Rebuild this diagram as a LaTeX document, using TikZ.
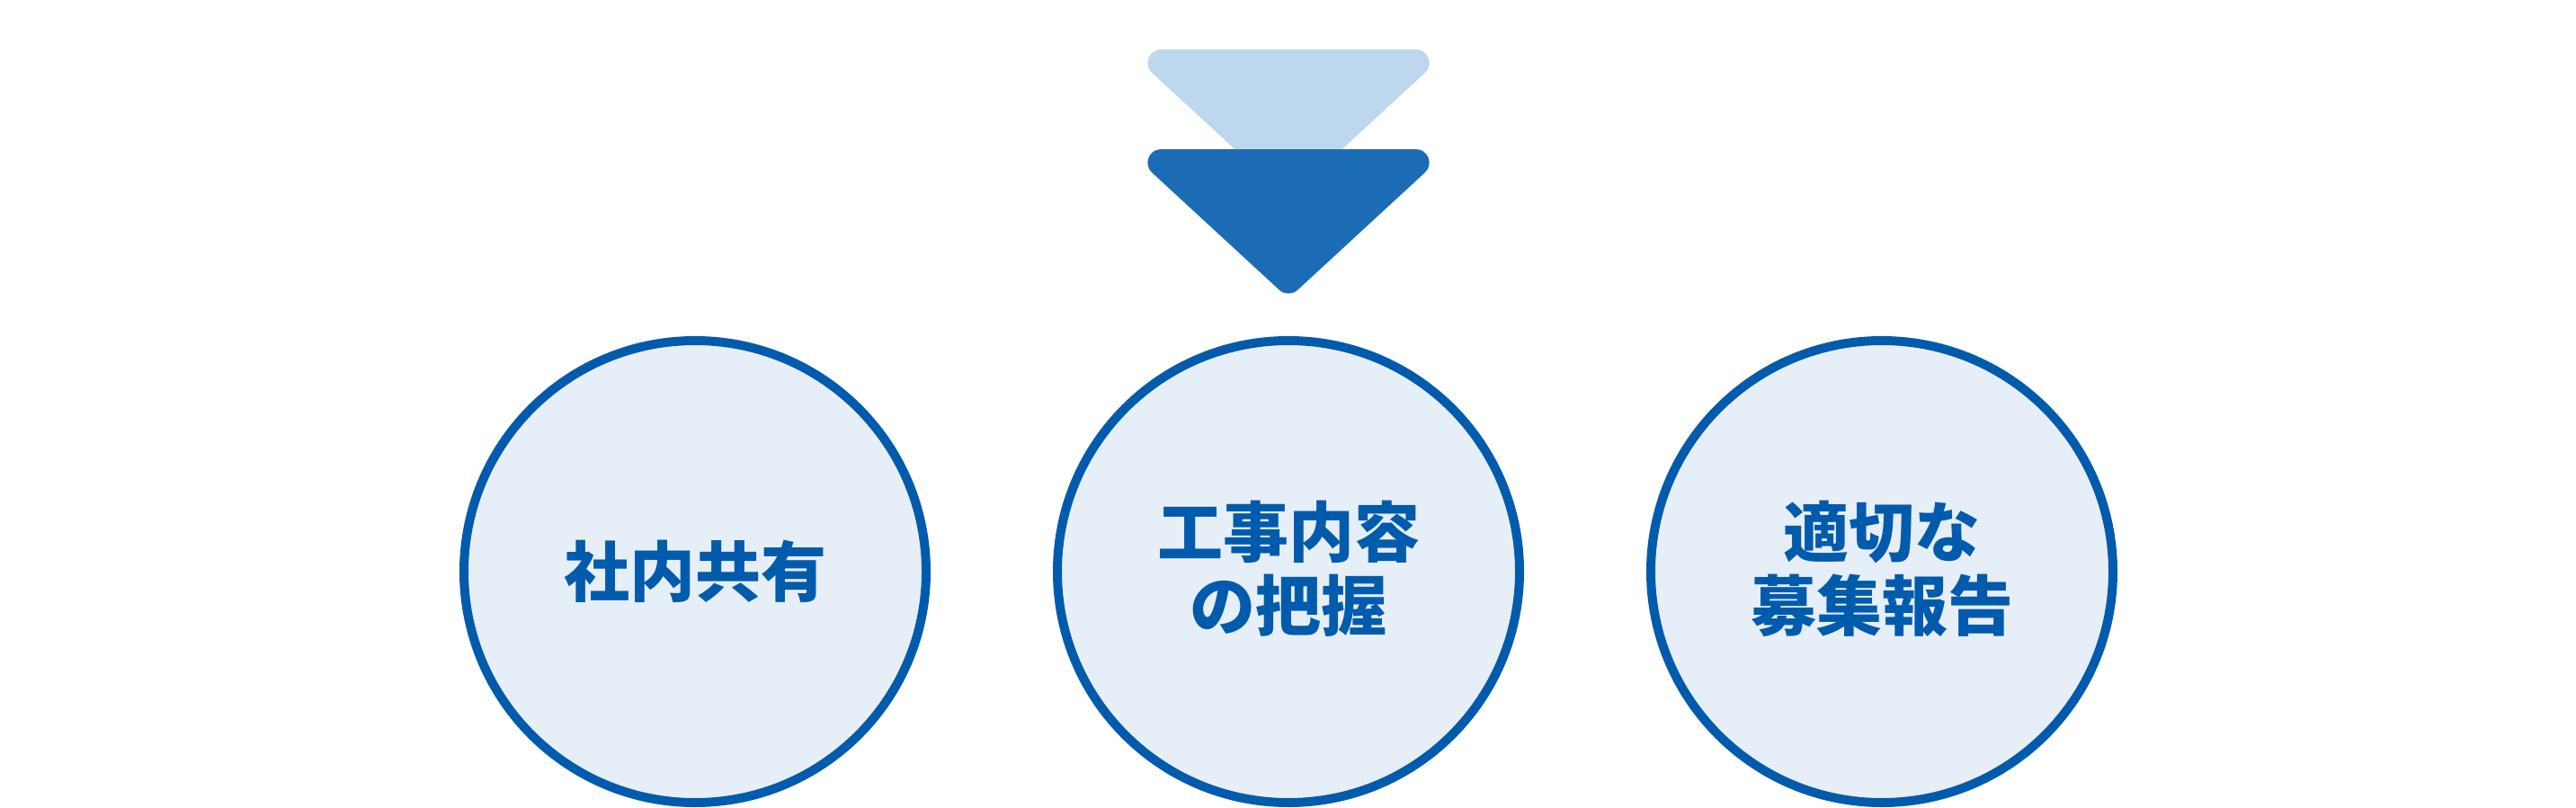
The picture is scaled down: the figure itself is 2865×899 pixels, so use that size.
\documentclass[tikz,border=0pt]{standalone}
\usepackage{fontspec}
\newfontfamily\jp{Noto Sans CJK JP}
\definecolor{ringblue}{RGB}{0,91,172}
\definecolor{ringfill}{RGB}{230,238,248}
\definecolor{arrowdark}{RGB}{27,108,181}
\definecolor{arrowlight}{RGB}{189,215,238}
\tikzset{
  stepcircle/.style={circle, draw=ringblue, fill=ringfill, line width=10pt,
    minimum size=514pt, inner sep=0pt},
  steplabel/.style={text=ringblue, align=center,
    font=\jp\bfseries\fontsize{73pt}{82pt}\selectfont},
  chevron/.style={line width=30pt, line join=round},
}
\begin{document}
\begin{tikzpicture}[x=1pt,y=-1pt]
\useasboundingbox (0,0) rectangle (2865,899);
% chevrons (inset triangles with round joins give circular corners)
\filldraw[chevron, arrowlight] (1291.4,70) -- (1574.6,70) -- (1433,200.6) -- cycle;
\filldraw[chevron, arrowdark] (1291.4,181) -- (1574.6,181) -- (1433,311.6) -- cycle;
% circles
\node[stepcircle] (c1) at (773,636) {};
\node[stepcircle] (c2) at (1433,636) {};
\node[stepcircle] (c3) at (2093,636) {};
\node[steplabel] (t1) at (c1.center) {社内共有};
\node[steplabel] (t2) at ([yshift=3pt]c2.center) {工事内容\\の把握};
\node[steplabel] (t3) at ([yshift=3pt]c3.center) {適切な\\募集報告};
\end{tikzpicture}
\end{document}
